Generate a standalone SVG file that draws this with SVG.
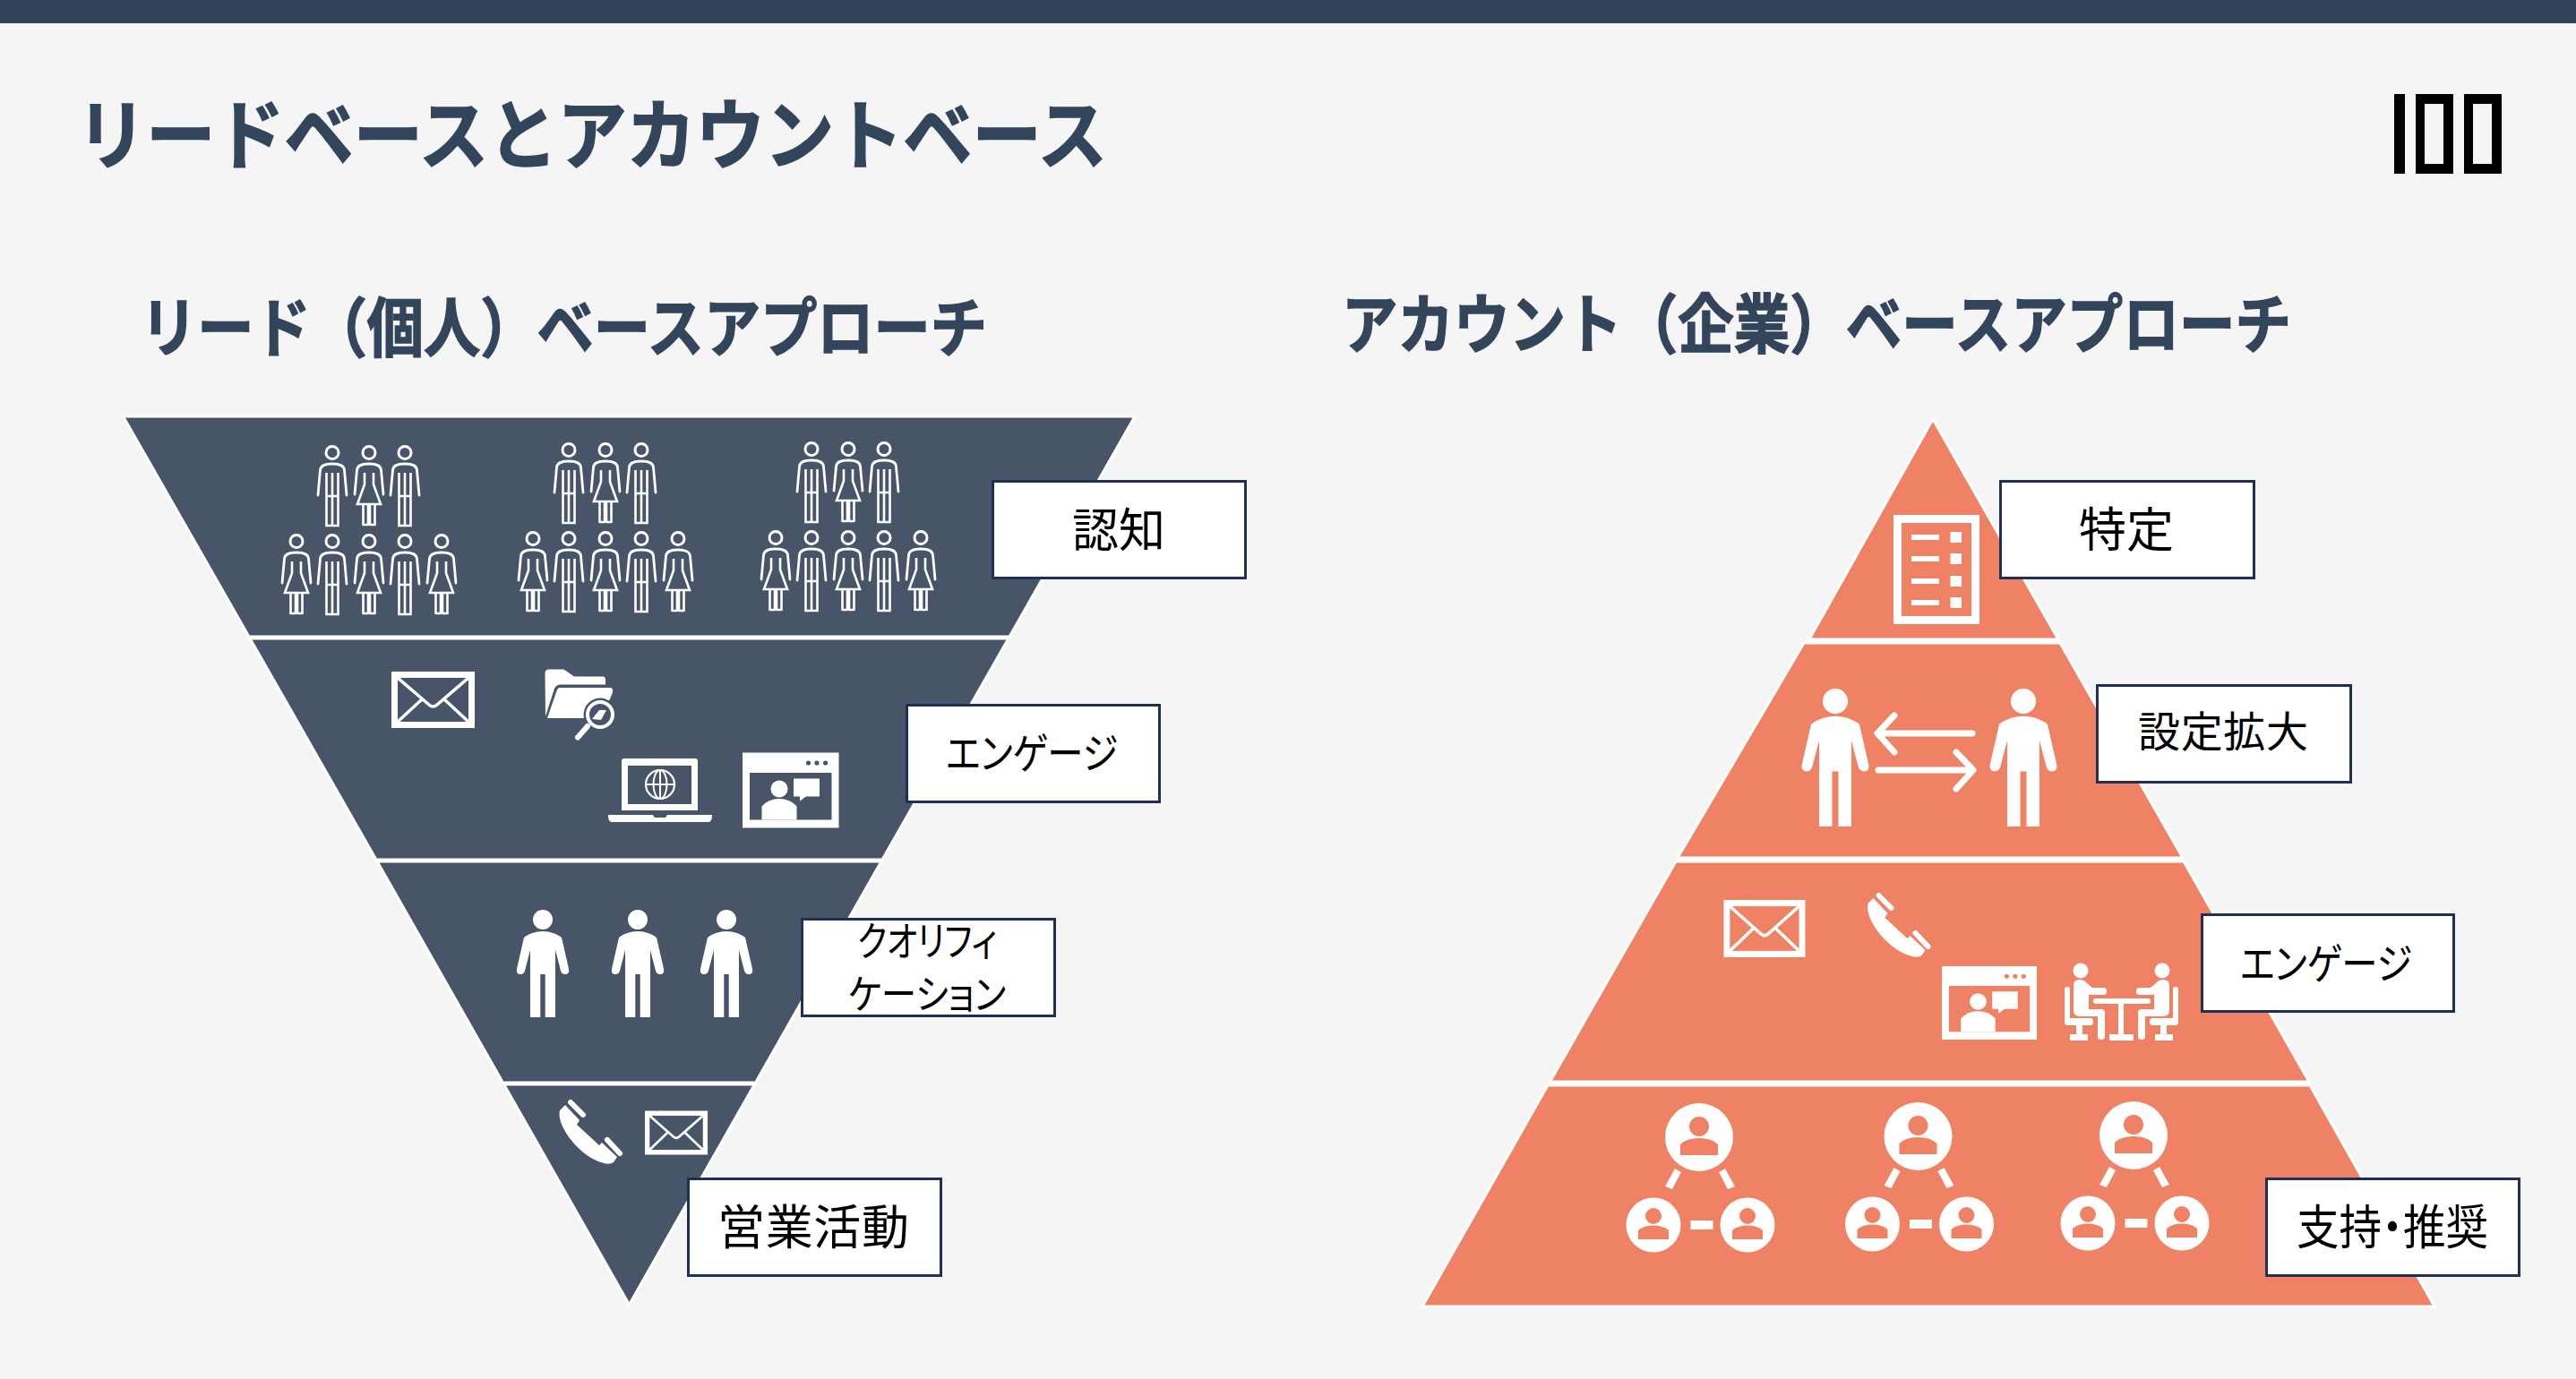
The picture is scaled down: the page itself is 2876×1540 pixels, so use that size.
<svg xmlns="http://www.w3.org/2000/svg" xmlns:xlink="http://www.w3.org/1999/xlink" width="2876" height="1540" viewBox="0 0 2876 1540">
<style>
text{font-family:"Noto Sans CJK JP","Noto Sans CJK SC",sans-serif;text-anchor:middle}
.h{font-weight:700;fill:#33455B;stroke:#33455B;stroke-width:1.500;text-anchor:start}
.l{fill:#000;font-weight:400;font-feature-settings:"palt"}
.box{fill:#fff;stroke:#1F2F55;stroke-width:3}
.navy polygon{fill:#485569;stroke:#fff;stroke-width:3}
.coral polygon{fill:#EF8264;stroke:#fff;stroke-width:3}
.div{stroke:#fff;stroke-width:5;fill:none}
.w{fill:#fff}
.o{fill:none;stroke:#fff}
</style>
<defs>
<g id="man">
<circle cx="0" cy="8.500" r="7" class="o" stroke-width="3"/>
<path class="o" stroke-width="2.800" stroke-linecap="round" d="M-16 56 L-13.500 28 Q-13 21 0 21 Q13 21 13.500 28 L16 56"/>
<path class="o" stroke-width="2.600" d="M-6.500 31 V90 H6.500 V31 M0 31 V90 M-6.500 57 H6.500"/>
</g>
<g id="woman">
<circle cx="0" cy="8.500" r="7" class="o" stroke-width="3"/>
<path class="o" stroke-width="2.800" stroke-linecap="round" d="M-16 55 L-13.500 28 Q-13 21 0 21 Q13 21 13.500 28 L16 55"/>
<path class="o" stroke-width="2.600" d="M-5 31 V44 L-13 66 H13 L5 44 V31 M-6.500 66 V90 M-1 66 V90 M1 66 V90 M6.500 66 V90 M-6.500 89 H-1 M1 89 H6.500"/>
</g>
<path id="solidman" class="w" d="M0 24 C8 24 16 27 21 31 L29 66 Q30 72 25 72 Q21 72 20 68 L14 45 V120 H2.700 V72 H-2.700 V120 H-14 V45 L-20 68 Q-21 72 -25 72 Q-30 72 -29 66 L-21 31 C-16 27 -8 24 0 24 Z M11 11 A11 11 0 1 1 -11 11 A11 11 0 1 1 11 11 Z"/>
<g id="envelope">
<rect x="3.500" y="3.500" width="86" height="56" class="o" stroke-width="7"/>
<path class="o" stroke-width="3.500" d="M7 7 L42 37 Q46.500 41 51 37 L86 7 M7 56 L34 31 M86 56 L59 31"/>
</g>
<g id="phone" class="w">
<path d="M7 6 L23 23 L20 28 L45 51 L48 48 L65 64 L61 70 Q57 73 50 71 Q38 68 26 58 Q12 46 5 32 Q-1 20 1 12 Z"/>
<path class="o" stroke-width="6" stroke-linecap="round" d="M13 3 L27 17 M54 45 L68 60"/>
</g>
<g id="webchat">
<path class="w" fill-rule="evenodd" d="M0 0 H107.500 V84 H0 Z M8 22.500 V75 H99.500 V22.500 Z"/>
<circle cx="73.500" cy="11.500" r="2.600" fill="currentColor"/><circle cx="83" cy="11.500" r="2.600" fill="currentColor"/><circle cx="92.600" cy="11.500" r="2.600" fill="currentColor"/>
<circle cx="41" cy="40.500" r="9.500" class="w"/>
<path class="w" d="M21.500 75 V60 Q29 51.500 41 51.500 Q53 51.500 60.500 60 V75 Z"/>
<path class="w" d="M57 29 H86 V49 H71 L64 54 V49 H57 Z"/>
</g>
<g id="net" class="w">
<circle cx="0" cy="0" r="38"/>
<circle cx="-51" cy="98" r="30.500"/>
<circle cx="54" cy="98" r="30.500"/>
<g fill="#EF8264">
<circle cx="0" cy="-12" r="11"/>
<path d="M-21 20 V8 Q-14 1 0 1 Q14 1 21 8 V20 Z"/>
<circle cx="-51" cy="88" r="9"/>
<path d="M-68 114 V104 Q-62 98.500 -51 98.500 Q-40 98.500 -34 104 V114 Z"/>
<circle cx="54" cy="88" r="9"/>
<path d="M37 114 V104 Q43 98.500 54 98.500 Q65 98.500 71 104 V114 Z"/>
</g>
<path d="M-20 39 L-30 58 L-38 55 L-27 35 Z M22 39 L32 58 L40 55 L29 35 Z M-9.500 93 H15.500 V103 H-9.500 Z"/>
</g>
</defs>
<rect width="2876" height="1540" fill="#F5F5F5"/>
<rect width="2876" height="26" fill="#324258"/>
<g id="title"><text class="h" x="86" y="182" font-size="85" textLength="1150" lengthAdjust="spacingAndGlyphs">リードベースとアカウントベース</text></g>
<g id="logo" fill="#000" fill-rule="evenodd">
<rect x="2673" y="105" width="12" height="89"/>
<path d="M2697 105 H2739 V194 H2697 Z M2707 116 V183 H2728 V116 Z"/>
<path d="M2751 105 H2793 V194 H2751 Z M2761 116 V183 H2782 V116 Z"/>
</g>
<g id="lead-heading"><text class="h" x="157" y="392" font-size="72" textLength="945" lengthAdjust="spacingAndGlyphs">リード（個人）ベースアプローチ</text></g>
<g id="account-heading"><text class="h" x="1498" y="388" font-size="72" textLength="1060" lengthAdjust="spacingAndGlyphs">アカウント（企業）ベースアプローチ</text></g>

<g id="funnel" class="navy">
<polygon points="137.500,465 1267,465 1126.500,712 278.500,712"/>
<polygon points="278.500,712 1126.500,712 984.500,961 420.500,961"/>
<polygon points="420.500,961 984.500,961 843,1210 562,1210"/>
<polygon points="562,1210 843,1210 702.500,1457"/>
<path class="div" d="M279 712 H1126 M421 961 H984 M563 1210 H842"/>
</g>
<g id="funnel-icons">
<g id="people-1">
<use href="#man" x="371" y="497"/><use href="#woman" x="412" y="497"/><use href="#man" x="452" y="497"/>
<use href="#woman" x="331" y="596"/><use href="#man" x="371" y="596"/><use href="#woman" x="412" y="596"/><use href="#man" x="452" y="596"/><use href="#woman" x="493" y="596"/>
</g>
<g id="people-2">
<use href="#man" x="635" y="494"/><use href="#woman" x="676" y="494"/><use href="#man" x="716" y="494"/>
<use href="#woman" x="595" y="593"/><use href="#man" x="635" y="593"/><use href="#woman" x="676" y="593"/><use href="#man" x="716" y="593"/><use href="#woman" x="757" y="593"/>
</g>
<g id="people-3">
<use href="#man" x="906" y="493"/><use href="#woman" x="947" y="493"/><use href="#man" x="987" y="493"/>
<use href="#woman" x="866" y="592"/><use href="#man" x="906" y="592"/><use href="#woman" x="947" y="592"/><use href="#man" x="987" y="592"/><use href="#woman" x="1028" y="592"/>
</g>
<use href="#envelope" transform="translate(437 750)"/>
<g id="folder">
<path class="w" d="M608.500 752 Q608.500 747.500 613 747.500 H629.500 L641 755.500 H673 Q676 755.500 676 759 V764.500 H626 Q621 764.500 619 769 L609 800 Z"/>
<path class="w" d="M625 768 H681 Q685 768 684 773 L681 781 L652 802 H611 L621 773 Q622.500 768 625 768 Z"/>
<circle cx="670" cy="798" r="18.500" fill="#485569"/>
<circle cx="670" cy="798" r="14" class="o" stroke-width="4"/>
<path class="w" d="M661 803 L669 793 H677 L671 804 Z"/>
<path class="o" stroke-width="6" stroke-linecap="round" d="M645 823.500 L656 811"/>
</g>
<g id="laptop">
<path class="w" fill-rule="evenodd" d="M697 847 H776 Q779 847 779 850 V905 H694 V850 Q694 847 697 847 Z M701 855 V898 H772 V855 Z"/>
<path class="w" d="M679 910 H729 L731 913 H743 L745 910 H795 Q795 918 791 918 H683 Q679 918 679 910 Z"/>
<circle cx="737" cy="876" r="16" class="o" stroke-width="2.200"/>
<ellipse cx="737" cy="876" rx="7.500" ry="16" class="o" stroke-width="2"/>
<path class="o" stroke-width="2" d="M737 860 V892 M721 876 H753"/>
</g>
<use href="#webchat" transform="translate(829 840.500)" color="#485569"/>
<use href="#solidman" x="606" y="1016"/><use href="#solidman" x="712" y="1016"/><use href="#solidman" x="811" y="1016"/>
<use href="#phone" transform="translate(624 1228)"/>
<use href="#envelope" transform="translate(720 1240.500) scale(.753 .778)"/>
</g>

<g id="pyramid" class="coral">
<polygon points="2158,468 2298,714 2020,714"/>
<polygon points="2014,718 2300,718 2437,958 1873,958"/>
<polygon points="1871,962 2438,962 2578,1208 1730.500,1208"/>
<polygon points="1728,1212 2579,1212 2718,1459 1588,1459"/>
<path class="div" d="M2016 716 H2298 M1873 960 H2437 M1730 1210 H2578"/>
</g>
<g id="pyramid-icons">
<g id="doc">
<rect x="2118.500" y="579.500" width="87" height="113" class="o" stroke-width="9"/>
<path class="w" d="M2134 597 H2165 V603 H2134 Z M2134 621 H2165 V627 H2134 Z M2134 646 H2165 V652 H2134 Z M2134 670 H2165 V676 H2134 Z M2177.500 594 H2190 V606 H2177.500 Z M2177.500 618 H2190 V630 H2177.500 Z M2177.500 643 H2190 V655 H2177.500 Z M2177.500 667 H2190 V679 H2177.500 Z"/>
</g>
<use href="#solidman" transform="translate(2049 769) scale(1.283)"/>
<use href="#solidman" transform="translate(2259 769) scale(1.283)"/>
<g id="arrows" class="o" stroke-width="7" stroke-linecap="round" stroke-linejoin="round">
<path d="M2202 819 H2097 M2115 799 L2096 819 L2115 840"/>
<path d="M2097 860 H2202 M2184 840 L2203 860 L2184 881"/>
</g>
<use href="#envelope" transform="translate(1924.500 1005) scale(.978 1.016)"/>
<use href="#phone" transform="translate(2084.500 997)"/>
<use href="#webchat" transform="translate(2168 1079) scale(.986 .976)" color="#EF8264"/>
<g id="meeting">
<g id="meeting-left" class="w">
<circle cx="2323" cy="1084" r="8.500"/>
<path d="M2315 1100 Q2315 1094 2322 1094 Q2327 1094 2330 1098 L2336 1103 H2349 Q2352 1103 2352 1107 Q2352 1111 2349 1111 H2333 L2332 1110 V1127 H2346 Q2350 1127 2350 1131 V1158 Q2350 1161 2346 1161 Q2342 1161 2342 1158 V1135 H2322 Q2315 1135 2315 1128 Z"/>
<path d="M2305 1105 Q2305 1102 2308 1102 Q2311 1102 2311 1105 V1137 H2334 Q2337 1137 2337 1141 Q2337 1145 2334 1145 H2325 V1155 H2331 V1162 H2311 V1155 H2318 V1145 H2308 Q2305 1145 2305 1141 Z"/>
</g>
<use href="#meeting-left" transform="translate(4737 0) scale(-1 1)"/>
<path class="w" d="M2340 1115 H2398 Q2401 1115 2401 1118 Q2401 1121 2398 1121 H2371 V1155 H2382 V1162 H2355 V1155 H2365 V1121 H2340 Q2337 1121 2337 1118 Q2337 1115 2340 1115 Z"/>
</g>
<use href="#net" x="1897" y="1270"/>
<use href="#net" x="2141.500" y="1269"/>
<use href="#net" x="2382" y="1268"/>
</g>

<g id="label-ninchi"><rect class="box" x="1108.500" y="537.500" width="282" height="108"/><text class="l" x="1249" y="611" font-size="52" textLength="104">認知</text></g>
<g id="label-engage-left"><rect class="box" x="1012.500" y="787.500" width="282" height="108"/><text class="l" x="1152" y="858" font-size="47" textLength="192" lengthAdjust="spacingAndGlyphs">エンゲージ</text></g>
<g id="label-qual"><rect class="box" x="895.500" y="1026.500" width="282" height="108"/><text class="l" x="1035" y="1068" font-size="45" textLength="156" lengthAdjust="spacingAndGlyphs">クオリフィ</text><text class="l" x="1035" y="1127" font-size="45" textLength="176" lengthAdjust="spacingAndGlyphs">ケーション</text></g>
<g id="label-sales"><rect class="box" x="768.500" y="1316.500" width="282" height="108"/><text class="l" x="908" y="1390" font-size="53" textLength="214">営業活動</text></g>
<g id="label-tokutei"><rect class="box" x="2233.500" y="537.500" width="283" height="108"/><text class="l" x="2374" y="611" font-size="53" textLength="106">特定</text></g>
<g id="label-kakudai"><rect class="box" x="2341.500" y="765.500" width="283" height="108"/><text class="l" x="2482" y="834" font-size="47" textLength="190">設定拡大</text></g>
<g id="label-engage-right"><rect class="box" x="2458.500" y="1021.500" width="281" height="108"/><text class="l" x="2597" y="1093" font-size="47" textLength="192" lengthAdjust="spacingAndGlyphs">エンゲージ</text></g>
<g id="label-shiji"><rect class="box" x="2530.500" y="1316.500" width="282" height="108"/><text class="l" x="2671" y="1390" font-size="53" textLength="214" lengthAdjust="spacingAndGlyphs">支持・推奨</text></g>
</svg>
